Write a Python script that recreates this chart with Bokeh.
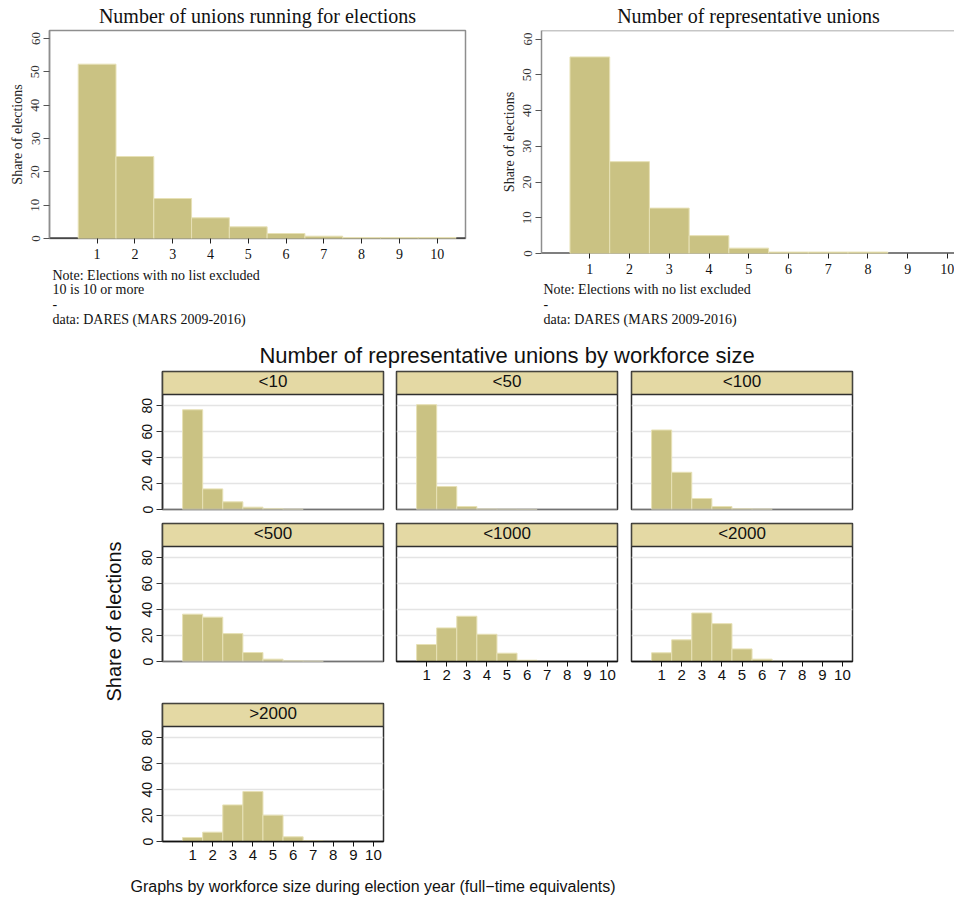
from math import pi

from bokeh.core.properties import value
from bokeh.embed import file_html
from bokeh.layouts import column, row
from bokeh.models import (BoxAnnotation, ColumnDataSource, FixedTicker, Grid, Label,
                          Range1d, Span)
from bokeh.plotting import figure
from bokeh.resources import INLINE

# number of unions in the election (10 stands for 10 or more)
union_counts = [1, 2, 3, 4, 5, 6, 7, 8, 9, 10]

# share of elections (%) by number of unions running
running_share = [52.3, 24.6, 12.0, 6.2, 3.5, 1.5, 0.7, 0.3, 0.3, 0.3]
# share of elections (%) by number of representative unions
representative_share = [55.0, 25.7, 12.7, 5.0, 1.5, 0.4, 0.4, 0.4, 0.0, 0.0]

# representative unions by workforce size (full-time equivalents)
size_groups = ["<10", "<50", "<100", "<500", "<1000", "<2000", ">2000"]
share_lt10 = [76.9, 15.9, 5.9, 1.8, 0.8, 0.3, 0.0, 0.0, 0.0, 0.0]
share_lt50 = [80.8, 17.7, 2.3, 0.4, 0.2, 0.1, 0.0, 0.0, 0.0, 0.0]
share_lt100 = [61.3, 28.7, 8.5, 2.3, 0.6, 0.4, 0.0, 0.0, 0.0, 0.0]
share_lt500 = [36.5, 34.2, 21.5, 6.9, 1.8, 0.5, 0.3, 0.0, 0.0, 0.0]
share_lt1000 = [13.1, 25.9, 34.9, 21.0, 6.4, 1.0, 0.1, 0.0, 0.0, 0.0]
share_lt2000 = [6.7, 16.7, 37.4, 29.2, 9.7, 1.8, 0.2, 0.1, 0.0, 0.0]
share_gt2000 = [3.1, 7.2, 28.2, 38.5, 20.3, 3.6, 0.6, 0.1, 0.0, 0.0]

top_ticks = [0, 10, 20, 30, 40, 50, 60]
panel_ticks = [0, 20, 40, 60, 80]
panel_grid = [20, 40, 60, 80]

NOTE_MAIN = "Note: Elections with no list excluded"
NOTE_TOPCODE = "10 is 10 or more"
NOTE_SOURCE = "data: DARES (MARS 2009-2016)"

SERIF = "Liberation Serif"
SANS = "Liberation Sans"
BAR_FILL = "#CAC283"
BAR_LINE = "#E7E1B6"
STRIP_FILL = "#E4D9A4"
FRAME_GREY = "#8E8E8E"
FRAME_DARK = "#2F2F2F"

TOP_YMAX = 62.4
PANEL_YMAX = 106.4
STRIP_BOTTOM = 88.6
PANEL_FRAME_H = 138


def bar_source(shares):
    xs = [c for c, s in zip(union_counts, shares) if s > 0]
    tops = [s for s in shares if s > 0]
    return ColumnDataSource(data=dict(x=xs, top=tops))


def text_figure(width, height, items, left=0, right=0):
    """Blank canvas whose data units are canvas pixels, used for free-standing texts.

    left/right are the side borders shared with the plots stacked in the same column,
    so the frame lines up with them; the x range is set so that x stays in pixels.
    items: (x, y, text, font, size, align, angle)
    """
    p = figure(width=width, height=height, title=None, toolbar_location=None,
               output_backend="svg",
               x_range=Range1d(left, width - right), y_range=Range1d(0, height),
               x_axis_location=None, y_axis_location=None,
               min_border_left=left, min_border_right=right,
               min_border_top=0, min_border_bottom=0,
               background_fill_color="white", border_fill_color="white")
    p.grid.visible = False
    p.outline_line_color = None
    for x, y, text, font, size, align, angle in items:
        p.text(x=[x], y=[y], text=[text], angle=angle, text_align=align,
               text_baseline="middle", text_font=value(font),
               text_font_size=value(size), text_color="#111111")
    return p


def top_chart(shares, height, x_start, x_end, mb_left, mb_right, mb_bottom, closed_frame):
    p = figure(width=477, height=height, title=None, toolbar_location=None,
               output_backend="svg",
               x_range=Range1d(x_start, x_end), y_range=Range1d(0, TOP_YMAX),
               min_border_left=mb_left, min_border_right=mb_right,
               min_border_top=2, min_border_bottom=mb_bottom,
               background_fill_color="white", border_fill_color="white")
    p.grid.visible = False

    # black baseline sits underneath the bars
    p.add_layout(Span(location=0, dimension="width", line_color="black",
                      line_width=2, level="underlay"))
    p.vbar(x="x", top="top", width=1, source=bar_source(shares),
           fill_color=BAR_FILL, line_color=BAR_LINE, line_width=1)

    if closed_frame:
        p.outline_line_color = FRAME_GREY
        p.outline_line_width = 1.5
    else:
        p.outline_line_color = None
        p.add_layout(Span(location=TOP_YMAX, dimension="width",
                          line_color=FRAME_GREY, line_width=1.5))

    ya = p.yaxis[0]
    ya.ticker = FixedTicker(ticks=top_ticks)
    ya.axis_line_color = FRAME_GREY
    ya.axis_line_width = 1.5
    ya.major_tick_line_color = "#555555"
    ya.major_tick_out = 6
    ya.major_tick_in = 0
    ya.minor_tick_line_color = None
    ya.major_label_orientation = "vertical"
    ya.major_label_text_font = SERIF
    ya.major_label_text_font_size = "13px"
    ya.major_label_text_color = "#333333"
    ya.major_label_standoff = 4
    ya.axis_label = "Share of elections"
    ya.axis_label_text_font = SERIF
    ya.axis_label_text_font_size = "14px"
    ya.axis_label_text_font_style = "normal"
    ya.axis_label_text_color = "#222222"
    ya.axis_label_standoff = 4

    xa = p.xaxis[0]
    xa.ticker = FixedTicker(ticks=union_counts)
    xa.axis_line_color = None
    xa.major_tick_line_color = "#222222"
    xa.major_tick_out = 5
    xa.major_tick_in = 0
    xa.minor_tick_line_color = None
    xa.major_label_text_font = SERIF
    xa.major_label_text_font_size = "14px"
    xa.major_label_text_color = "#111111"
    xa.major_label_standoff = 5
    return p


# left chart: unions running (frame borders 49 / 12)
title_running = text_figure(477, 28, [
    (257, 12.5, "Number of unions running for elections", SERIF, "20px", "center", 0.0)],
    left=49, right=12)
chart_running = top_chart(running_share, 240, -0.26, 10.75, 49, 12, 30, True)
notes_running = text_figure(477, 62, [
    (52, 54.7, NOTE_MAIN, SERIF, "14px", "left", 0.0),
    (52, 40.7, NOTE_TOPCODE, SERIF, "14px", "left", 0.0),
    (52, 26.7, "-", SERIF, "14px", "left", 0.0),
    (52, 10.7, NOTE_SOURCE, SERIF, "14px", "left", 0.0)],
    left=49, right=12)

# right chart: representative unions (frame borders 64 / 0)
title_repr = text_figure(477, 28, [
    (271, 12.5, "Number of representative unions", SERIF, "20px", "center", 0.0)],
    left=64, right=0)
chart_repr = top_chart(representative_share, 255, -0.217, 10.18, 64, 0, 30, False)
notes_repr = text_figure(477, 47, [
    (66, 40.7, NOTE_MAIN, SERIF, "14px", "left", 0.0),
    (66, 26.5, "-", SERIF, "14px", "left", 0.0),
    (66, 10.7, NOTE_SOURCE, SERIF, "14px", "left", 0.0)],
    left=64, right=0)


def panel(group, shares, width, height, mb_left, mb_right, mb_top, mb_bottom,
          show_y, show_x):
    p = figure(width=width, height=height, title=None, toolbar_location=None,
               output_backend="svg",
               x_range=Range1d(-0.5, 10.5), y_range=Range1d(0, PANEL_YMAX),
               x_axis_location="below" if show_x else None,
               y_axis_location="left" if show_y else None,
               min_border_left=mb_left, min_border_right=mb_right,
               min_border_top=mb_top, min_border_bottom=mb_bottom,
               background_fill_color="white", border_fill_color="white")
    p.grid.visible = False
    p.outline_line_color = FRAME_DARK
    p.outline_line_width = 1.5

    p.add_layout(Grid(dimension=1, ticker=FixedTicker(ticks=panel_grid),
                      grid_line_color="#E4E4E4", grid_line_width=1.5))

    p.vbar(x="x", top="top", width=1, source=bar_source(shares),
           fill_color=BAR_FILL, line_color=BAR_LINE, line_width=1)

    # strip with the workforce-size label
    p.add_layout(BoxAnnotation(left=-0.5, right=10.5, bottom=STRIP_BOTTOM, top=PANEL_YMAX,
                               fill_color=STRIP_FILL, fill_alpha=1.0,
                               line_color=FRAME_DARK, line_width=1.5, line_alpha=1.0))
    p.add_layout(Label(x=5, y=PANEL_FRAME_H - 10, x_units="data", y_units="screen",
                       text=group, text_align="center", text_baseline="middle",
                       text_font=SANS, text_font_size="17px", text_color="#111111"))

    if show_y:
        ya = p.yaxis[0]
        ya.ticker = FixedTicker(ticks=panel_ticks)
        ya.axis_line_color = FRAME_DARK
        ya.axis_line_width = 1.5
        ya.major_tick_line_color = FRAME_DARK
        ya.major_tick_out = 6
        ya.major_tick_in = 0
        ya.minor_tick_line_color = None
        ya.major_label_orientation = "vertical"
        ya.major_label_text_font = SANS
        ya.major_label_text_font_size = "14px"
        ya.major_label_text_color = "#111111"
        ya.major_label_standoff = 4

    if show_x:
        xa = p.xaxis[0]
        xa.ticker = FixedTicker(ticks=union_counts)
        xa.axis_line_color = "#111111"
        xa.axis_line_width = 1.5
        xa.major_tick_line_color = "#111111"
        xa.major_tick_out = 5
        xa.major_tick_in = 0
        xa.minor_tick_line_color = None
        xa.major_label_text_font = SANS
        xa.major_label_text_font_size = "15px"
        xa.major_label_text_color = "#111111"
        xa.major_label_standoff = 3
    else:
        p.add_layout(Span(location=0, dimension="width", line_color="#B8B8B8",
                          line_width=1.5))
    return p


# column geometry: (width, left border, right border)
COL1 = (264, 37, 6)
COL2 = (234, 7, 6)
COL3 = (331, 8, 102)
# row geometry: (height, top border, bottom border)
ROW1 = (145, 1, 6)
ROW2 = (180, 8, 34)
ROW3 = (175, 8, 29)


def make_panel(idx, shares, col, rw, show_y, show_x):
    w, ml, mr = col
    h, mt, mb = rw
    return panel(size_groups[idx], shares, w, h, ml, mr, mt, mb, show_y, show_x)


p_lt10 = make_panel(0, share_lt10, COL1, ROW1, True, False)
p_lt50 = make_panel(1, share_lt50, COL2, ROW1, False, False)
p_lt100 = make_panel(2, share_lt100, COL3, ROW1, False, False)
p_lt500 = make_panel(3, share_lt500, COL1, ROW2, True, False)
p_lt1000 = make_panel(4, share_lt1000, COL2, ROW2, False, True)
p_lt2000 = make_panel(5, share_lt2000, COL3, ROW2, False, True)
p_gt2000 = make_panel(6, share_gt2000, COL1, ROW3, True, True)

heading = text_figure(954, 40, [
    (506.5, 15, "Number of representative unions by workforce size", SANS, "22px", "center", 0.0)])
side_label = text_figure(125, 500, [
    (113, 249, "Share of elections", SANS, "20px", "center", pi / 2)])
footer = text_figure(954, 28, [
    (130, 12, "Graphs by workforce size during election year (full\u2212time equivalents)",
     SANS, "16px", "left", 0.0)])

facets = column(
    row(p_lt10, p_lt50, p_lt100),
    row(p_lt500, p_lt1000, p_lt2000),
    p_gt2000,
)

page = column(
    row(column(title_running, chart_running, notes_running),
        column(title_repr, chart_repr, notes_repr)),
    heading,
    row(side_label, facets),
    footer,
)

open("out.html", "w").write(file_html(page, INLINE))
